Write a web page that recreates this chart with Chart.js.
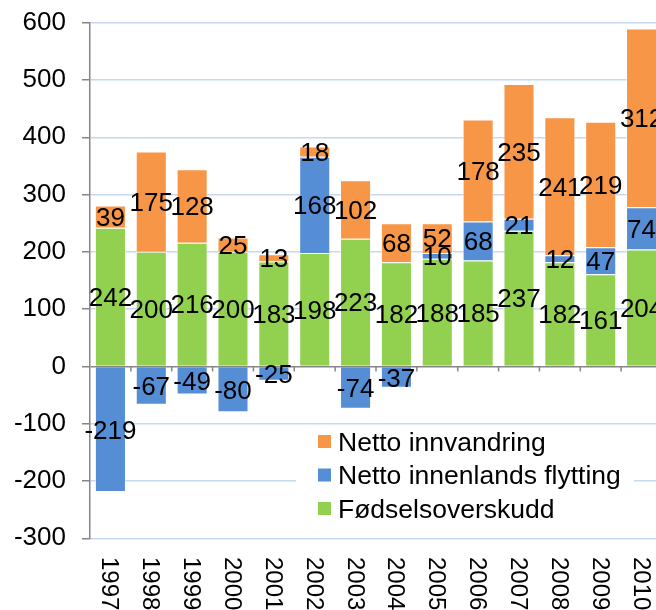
<!DOCTYPE html>
<html lang="no">
<head>
  <meta charset="UTF-8">
  <title>Befolkningsvekst</title>
  <script src="https://cdn.jsdelivr.net/npm/chart.js"></script>
  <style>
    html, body { margin: 0; padding: 0; overflow: hidden; background: #fff; }
    #wrap { width: 666px; height: 610px; }
  </style>
</head>
<body>
  <div id="wrap"><canvas id="chart" width="666" height="610"></canvas></div>

  <script>
    // data
    const years = ['1997', '1998', '1999', '2000', '2001', '2002', '2003',
                   '2004', '2005', '2006', '2007', '2008', '2009', '2010'];
    const fodselsoverskudd = [242, 200, 216, 200, 183, 198, 223, 182, 188, 185, 237, 182, 161, 204];
    const innenlandsFlytting = [-219, -67, -49, -80, -25, 168, -74, -37, 10, 68, 21, 12, 47, 74];
    const innvandring = [39, 175, 128, 25, 13, 18, 102, 68, 52, 178, 235, 241, 219, 312];
    const yTicks = [-300, -200, -100, 0, 100, 200, 300, 400, 500, 600];

    const FONT = '"Liberation Sans", Arial, sans-serif';
    const GRID = '#C6D9F1';
    const AXIS = '#868686';

    // tallene midt i hvert stykke
    const valueLabels = {
      id: 'valueLabels',
      afterDatasetsDraw(chart) {
        const ctx = chart.ctx;
        ctx.save();
        ctx.font = '26px ' + FONT;
        ctx.fillStyle = '#000';
        ctx.textAlign = 'center';
        ctx.textBaseline = 'alphabetic';
        chart.data.datasets.forEach((ds, i) => {
          chart.getDatasetMeta(i).data.forEach((bar, j) => {
            const p = bar.getCenterPoint();
            ctx.fillText(String(ds.data[j]), p.x, p.y + 9.3);
          });
        });
        ctx.restore();
      }
    };

    // akse ved 0 med små streker, rotert årstall og forklaring
    const extras = {
      id: 'extras',
      beforeDatasetsDraw(chart) {
        const ctx = chart.ctx;
        const x = chart.scales.x, y = chart.scales.y;
        const y0 = y.getPixelForValue(0);
        const step = x.getPixelForValue(1) - x.getPixelForValue(0);
        ctx.save();
        ctx.strokeStyle = AXIS;
        ctx.lineWidth = 1.5;
        for (let i = 1; i <= years.length; i++) {
          const bx = x.getPixelForValue(i) - step / 2;
          ctx.beginPath();
          ctx.moveTo(bx, y0);
          ctx.lineTo(bx, y0 + 5);
          ctx.stroke();
        }
        ctx.restore();
      },
      afterDraw(chart) {
        const ctx = chart.ctx;
        const x = chart.scales.x;
        ctx.save();
        ctx.font = '24px ' + FONT;
        ctx.fillStyle = '#000';
        ctx.textAlign = 'left';
        ctx.textBaseline = 'alphabetic';
        years.forEach((yr, i) => {
          ctx.save();
          ctx.translate(x.getPixelForValue(i) - 8, 557);
          ctx.rotate(Math.PI / 2);
          ctx.fillText(yr, 0, 0);
          ctx.restore();
        });

        // forklaring
        ctx.fillStyle = '#fff';
        ctx.fillRect(296, 428, 338, 102);
        const items = [
          ['Netto innvandring', '#F79646'],
          ['Netto innenlands flytting', '#558ED5'],
          ['Fødselsoverskudd', '#92D050']
        ];
        ctx.font = '26.5px ' + FONT;
        items.forEach((it, k) => {
          const cy = 441.5 + k * 33.5;
          ctx.fillStyle = it[1];
          ctx.fillRect(318, cy - 6.5, 13, 13);
          ctx.fillStyle = '#000';
          ctx.fillText(it[0], 338, cy + 9.3);
        });
        ctx.restore();
      }
    };

    const ctx = document.getElementById('chart').getContext('2d');
    new Chart(ctx, {
      type: 'bar',
      data: {
        labels: years,
        datasets: [
          { label: 'Fødselsoverskudd', data: fodselsoverskudd, backgroundColor: '#92D050' },
          { label: 'Netto innenlands flytting', data: innenlandsFlytting, backgroundColor: '#558ED5' },
          { label: 'Netto innvandring', data: innvandring, backgroundColor: '#F79646' }
        ]
      },
      options: {
        responsive: false,
        animation: false,
        devicePixelRatio: 1,
        layout: { padding: { left: 0, right: 4, top: 22.7, bottom: 71.7 } },
        datasets: {
          bar: {
            categoryPercentage: 1,
            barPercentage: 0.76,
            borderWidth: 1,
            borderColor: 'rgba(255,255,255,0.45)'
          }
        },
        plugins: {
          legend: { display: false },
          tooltip: { enabled: false }
        },
        scales: {
          x: {
            stacked: true,
            display: false
          },
          y: {
            stacked: true,
            min: -300,
            max: 600,
            afterFit(scale) {
              scale.width = 90;
              scale.paddingTop = 0;
              scale.paddingBottom = 0;
            },
            afterBuildTicks(scale) { scale.ticks = yTicks.map(v => ({ value: v })); },
            ticks: {
              padding: 16,
              color: '#000',
              font: { family: FONT, size: 26 }
            },
            grid: {
              color: c => (c.tick && c.tick.value === 0 ? AXIS : GRID),
              lineWidth: 1.5,
              tickColor: AXIS,
              tickLength: 8
            },
            border: { color: AXIS, width: 1.5 }
          }
        }
      },
      plugins: [valueLabels, extras]
    });
  </script>
</body>
</html>
